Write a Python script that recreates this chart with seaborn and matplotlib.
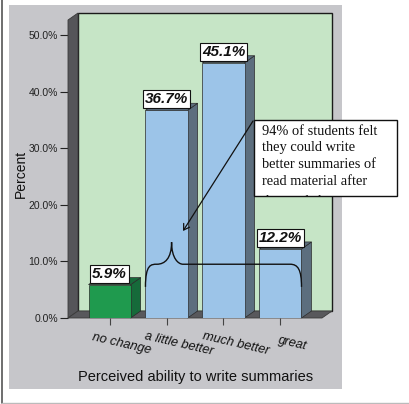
import matplotlib
matplotlib.use("Agg")
import matplotlib.pyplot as plt
import seaborn as sns
from matplotlib.patches import Polygon, Rectangle, PathPatch, FancyArrowPatch
from matplotlib.path import Path
from matplotlib.lines import Line2D
from matplotlib.transforms import ScaledTranslation

# ---- data ----
categories = ["no change", "a little better", "much better", "great"]
percents = [5.9, 36.7, 45.1, 12.2]
front_colors = ["#1f9a4e", "#9cc4e8", "#9cc4e8", "#9cc4e8"]
side_colors = ["#166a3a", "#5c6e7e", "#5c6e7e", "#5c6e7e"]
y_ticks = [0, 10, 20, 30, 40, 50]
y_tick_labels = ["0.0%", "10.0%", "20.0%", "30.0%", "40.0%", "50.0%"]
note_lines = ["94% of students felt", "they could write",
              "better summaries of", "read material after", "the workshop"]

# ---- figure setup ----
W, H, DPI = 409, 404, 100
sns.set_theme(style="white")
plt.rcParams["font.family"] = ["Liberation Sans", "DejaVu Sans"]

fig = plt.figure(figsize=(W / DPI, H / DPI), dpi=DPI, facecolor="white")


def fx(x):
    return x / W


def fy(y):
    return 1 - y / H


# grey chart panel and outer frame lines
fig.add_artist(Rectangle((fx(9), fy(389)), fx(342) - fx(9), fy(5) - fy(389),
                         transform=fig.transFigure, fc="#c6c6ca", ec="none", zorder=-5))
fig.add_artist(Line2D([fx(2), fx(2)], [fy(0), fy(403)], color="#555555", lw=1.2, zorder=-4))
fig.add_artist(Line2D([fx(2), fx(409)], [fy(403), fy(403)], color="#bbbbbb", lw=1, zorder=-4))

# front plane of the 3-D plot area
AX_L, AX_T, AX_R, AX_B = 68, 20, 322, 318
ax = fig.add_axes([fx(AX_L), fy(AX_B), (AX_R - AX_L) / W, (AX_B - AX_T) / H])
ax.set_facecolor("none")
ax.set_zorder(1)

sns.barplot(x=categories, y=percents, hue=categories, palette=front_colors,
            legend=False, width=0.74, saturation=1, ax=ax,
            edgecolor="#2a2a2a", linewidth=0.5, zorder=3)
bars = list(ax.patches)

XLIM = (-0.73, 3.73)
YLIM = (0, 52.65)
ax.set_xlim(*XLIM)
ax.set_ylim(*YLIM)

# depth of the 3-D extrusion, converted from pixels to data units
DX_PX, DY_PX = 10, 7
ddx = DX_PX * (XLIM[1] - XLIM[0]) / (AX_R - AX_L)
ddy = DY_PX * (YLIM[1] - YLIM[0]) / (AX_B - AX_T)
x0, x1 = XLIM
y1 = YLIM[1]

# back wall, left wall and floor
ax.add_patch(Rectangle((x0 + ddx, ddy), x1 - x0, y1, fc="#c6e5c6", ec="#1a1a1a",
                       lw=1, zorder=0.5, clip_on=False))
ax.add_patch(Polygon([(x0, 0), (x0, y1), (x0 + ddx, y1 + ddy), (x0 + ddx, ddy)],
                     closed=True, fc="#555559", ec="#3a3a3a", lw=0.6, zorder=1, clip_on=False))
ax.add_patch(Polygon([(x0, 0), (x1, 0), (x1 + ddx, ddy), (x0 + ddx, ddy)],
                     closed=True, fc="#58585c", ec="#3a3a3a", lw=0.6, zorder=1, clip_on=False))

# sides and tops of the bars
for bar, sc in zip(bars, side_colors):
    bx0 = bar.get_x()
    bx1 = bx0 + bar.get_width()
    h = bar.get_height()
    ax.add_patch(Polygon([(bx1, 0), (bx1, h), (bx1 + ddx, h + ddy), (bx1 + ddx, ddy)],
                         closed=True, fc=sc, ec="#2a2a2a", lw=0.5, zorder=2, clip_on=False))
    ax.add_patch(Polygon([(bx0, h), (bx1, h), (bx1 + ddx, h + ddy), (bx0 + ddx, h + ddy)],
                         closed=True, fc=sc, ec="#2a2a2a", lw=0.5, zorder=2, clip_on=False))

# value labels in white boxes
for bar, v in zip(bars, percents):
    cx = bar.get_x() + bar.get_width() / 2
    ax.annotate(f"{v:.1f}%", xy=(cx, bar.get_height()), xytext=(0, 2.8),
                textcoords="offset points", ha="center", va="bottom",
                fontsize=11, fontweight="bold", fontstyle="italic", color="#111111",
                bbox=dict(boxstyle="square,pad=0.13", fc="white", ec="#111111", lw=0.8),
                zorder=6, annotation_clip=False)

# axes, ticks and labels
for s in ax.spines.values():
    s.set_visible(False)
ax.set_yticks(y_ticks, y_tick_labels)
ax.tick_params(axis="y", direction="out", length=5.8, width=0.8, color="#222222",
               pad=1.5, labelsize=7.5, labelcolor="#222222", left=True)
ax.tick_params(axis="x", direction="out", length=5, width=0.8, color="#444444",
               pad=13.5, labelsize=9.3, labelcolor="#111111", bottom=True)
ax.set_xticks(range(len(categories)), categories)
for lbl in ax.get_xticklabels():
    lbl.set_rotation(-13)
    lbl.set_rotation_mode("anchor")
    lbl.set_ha("center")
    lbl.set_va("center")
    lbl.set_fontstyle("italic")
    lbl.set_transform(lbl.get_transform() + ScaledTranslation(12 / DPI, 0, fig.dpi_scale_trans))

ax.set_ylabel("Percent", fontsize=10, color="#111111", va="center")
ax.yaxis.set_label_coords((21 - AX_L) / (AX_R - AX_L), (AX_B - 174) / (AX_B - AX_T))
ax.set_xlabel("Perceived ability to write summaries", fontsize=10.5, color="#111111", va="center")
ax.xaxis.set_label_coords((196 - AX_L) / (AX_R - AX_L), (AX_B - 377) / (AX_B - AX_T))

# curly brace spanning the three "better" categories
b1, b3 = bars[1], bars[3]
left = b1.get_x()
right = b3.get_x() + b3.get_width()
tip = b1.get_x() + b1.get_width() * 0.62
base_y, mid_y, tip_y = 5.5, 9.5, 13.4
r = 0.2
brace = Path(
    [(left, base_y), (left, mid_y), (left + r * 0.5, mid_y), (left + r, mid_y),
     (tip - r * 0.6, mid_y), (tip, mid_y + 1.0), (tip, tip_y),
     (tip, mid_y + 1.0), (tip + r * 0.6, mid_y), (tip + r, mid_y),
     (right - r, mid_y),
     (right - r * 0.3, mid_y), (right, mid_y - 1.0), (right, base_y)],
    [Path.MOVETO, Path.CURVE4, Path.CURVE4, Path.CURVE4,
     Path.CURVE4, Path.CURVE4, Path.CURVE4,
     Path.CURVE4, Path.CURVE4, Path.CURVE4,
     Path.LINETO,
     Path.CURVE4, Path.CURVE4, Path.CURVE4])
ax.add_patch(PathPatch(brace, fc="none", ec="#111111", lw=1.0, zorder=7, clip_on=False))

# note box with arrow
note_box = Rectangle((fx(254), fy(196)), fx(397) - fx(254), fy(120) - fy(196),
                     transform=fig.transFigure, fc="white", ec="#111111", lw=1, zorder=10)
fig.add_artist(note_box)
baselines = [135, 151.5, 168, 184.5, 205.5]
for line, b in zip(note_lines, baselines):
    t = fig.text(fx(262), fy(b), line, ha="left", va="baseline",
                 fontsize=10.4, color="#111111", family=["Liberation Serif", "DejaVu Serif"],
                 zorder=11)
    t.set_clip_path(note_box)

fig.add_artist(FancyArrowPatch(
    (fx(253), fy(121)), (fx(183), fy(231)), transform=fig.transFigure,
    arrowstyle="->,head_length=4,head_width=2.5", color="#111111", lw=0.9,
    shrinkA=0, shrinkB=0, zorder=9))

fig.savefig("out.png", dpi=DPI, facecolor="white")
